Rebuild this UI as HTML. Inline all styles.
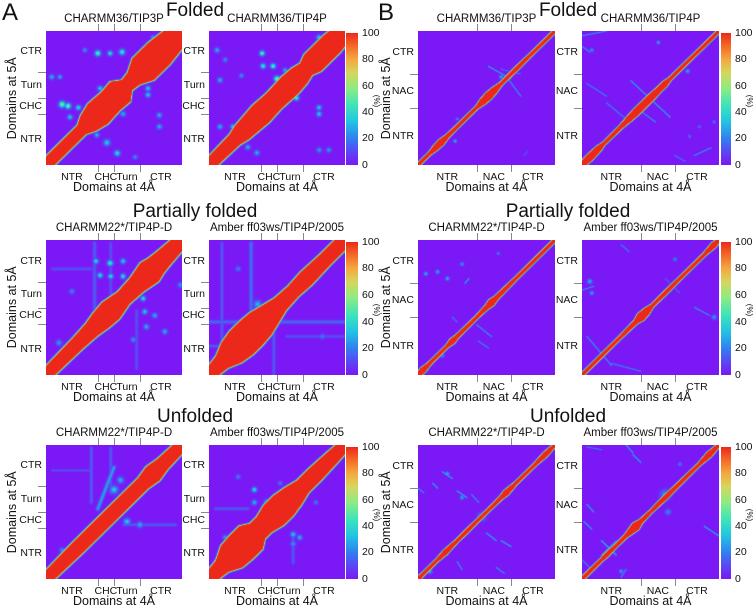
<!DOCTYPE html>
<html><head><meta charset="utf-8">
<style>
body{margin:0;background:#fff;}
#fig{position:relative;width:756px;height:608px;overflow:hidden;background:#fff;font-family:"Liberation Sans",Arial,sans-serif;color:#111;}
.t{position:absolute;white-space:nowrap;line-height:1;}
canvas{position:absolute;}
.tick{position:absolute;background:#888;}
</style></head>
<body>
<div id="fig"></div>
<script>
// ---------- data ----------
const domainsA = ["NTR","CHC","Turn","CTR"];
const boundsA = [0,16,21,29,42];
const domainsB = ["NTR","NAC","CTR"];
const boundsB = [0,60,95,140];
const cbTicks = [0,20,40,60,80,100];
const rowTitles = ["Folded","Partially folded","Unfolded"];
const subtitles = [["CHARMM36/TIP3P","CHARMM36/TIP4P"],["CHARMM22*/TIP4P-D","Amber ff03ws/TIP4P/2005"],["CHARMM22*/TIP4P-D","Amber ff03ws/TIP4P/2005"]];

const diagPosA1=[0,11,13,16,20,23,25,27,30,35,39,42];
const diagHwA1=[2.5,2.5,4.5,6,5.5,6,3,3.5,6.5,6.5,5.5,3];
const blobsA1=[[16,35,0.9,50],[19.8,35,0.8,40],[23.5,35.4,0.9,45],[28,32,0.8,40],[5,19,1,55],[6.8,18.5,0.9,55],[10,18,0.8,40],[7.4,15,0.8,35],[1.8,27.6,0.8,30],[4.3,27.6,0.7,30],[16.7,24,0.8,35],[23.8,16,0.8,30],[15.7,9.4,0.8,30],[18.8,7,1,35],[22,3.7,0.9,40],[31.5,24,0.8,35],[31.5,22,0.8,35],[35,15.6,0.8,30],[35,12,0.8,30],[27.5,2.5,0.7,25],[12,36,0.7,25],[33,40,0.7,25]];
const segsA1=[];

const diagPosA2=[0,8,10,16,20,25,28,30,32,38,40,42];
const diagHwA2=[2.5,3,4,5,4.5,5,4.5,3.5,5,5,4.5,3];
const blobsA2=[[16.4,35,0.8,50],[16.7,31,0.8,45],[19.8,31,0.8,50],[23.5,29.7,0.7,30],[21,27,0.9,55],[27,21,0.8,45],[2.5,36,0.8,30],[3.4,26.6,0.8,30],[3.4,12,0.8,30],[7.4,12,0.8,35],[12,5.6,0.8,30],[14.8,3.8,0.8,30],[34,18,0.8,35],[34,16,0.8,35],[34,4.7,0.8,25],[37,4.7,0.8,25],[34,40,0.8,35],[34,38,0.8,30],[10,28,0.7,25],[5,33,0.7,25]];
const segsA2=[];

const diagPosA3=[0,10,14,17,20,24,28,32,34,36,42];
const diagHwA3=[2.5,3,3.5,4.5,5,3.5,4,5.5,4.5,4,3];
const blobsA3=[[15.4,35.4,0.8,40],[19.8,34.8,0.9,45],[23.8,35.4,0.8,35],[16.7,31,0.8,40],[20,30.7,0.8,40],[23.8,30.7,0.8,40],[30,23.8,0.8,40],[30.5,19.7,0.8,35],[33.6,18.5,0.8,30],[36.7,13.5,0.8,30],[41.5,28,0.8,25],[8,26,0.8,22],[4,10,0.9,25],[27,11,0.8,25],[31,15,0.8,30]];
const segsA3=[[15,20,15,41,0.6,14],[20,24,20,41,0.5,12],[2,33,14,33,0.5,12],[28,2,28,20,0.5,12]];

const diagPosA4=[0,4,7,10,13,16,19,22,26,30,36,42];
const diagHwA4=[2.5,3.5,6,7,7,6.5,5,3.5,3,3.5,3,3];
const blobsA4=[[15,22,1.2,30],[25,25,0.9,25],[30,33,0.8,20],[9,33,0.8,20],[35,12,0.8,20]];
const segsA4=[[13,10,13,41,0.6,18],[0,16.5,42,16.5,0.6,16],[4,8,4,41,0.5,14],[20,0,20,14,0.5,14],[0,9,12,9,0.5,14],[24,12,42,12,0.5,12]];

const diagPosA5=[0,10,14,18,22,26,30,33,36,42];
const diagHwA5=[2.5,3,3,3,3,3,3,4,3,2.5];
const blobsA5=[[21,28,1.2,35],[23,31,1,30],[25,18,1,35],[29,17,0.9,30],[8,7,1,30],[5,9,0.8,25],[39,38,1,30],[32,35,0.8,22]];
const segsA5=[[16,22,21,35,0.6,26],[14,24,14,41,0.5,15],[20,27,20,41,0.5,14],[24,17,40,17,0.5,14],[2,34,14,34,0.4,12]];

const diagPosA6=[0,4,7,10,13,15,17,20,23,26,29,33,38,42];
const diagHwA6=[2.5,3.5,6.5,7,7,4.5,4.5,6,6,5,3.5,3.5,3,2.5];
const blobsA6=[[14,28,0.8,40],[18,24,0.9,40],[14,24,0.8,30],[24,19,0.8,40],[26,14,0.8,35],[28,13,0.8,30],[26,11,0.8,25],[9,32,0.7,22],[36,38,0.7,22],[22,30,0.7,20],[33,24,0.7,20],[5,13,0.8,25]];
const segsA6=[[2,22,12,22,0.5,14],[26,5,26,14,0.5,14]];

const diagPosB1=[0,12,18,24,30,40,60,66,72,78,85,100,115,140];
const diagHwB1=[2,2,4,4.5,2.5,2,2,4.5,5.5,4.5,2,2.5,2,2];
const blobsB1=[[40,48,1.5,25],[85,92,2,30],[38,25,1.8,30]];
const segsB1=[[72,103,95,90,0.7,28],[92,90,105,72,0.7,25],[85,100,105,95,0.6,20],[108,10,112,14,0.6,15]];

const diagPosB2=[0,8,18,22,40,48,55,62,70,78,85,90,100,140];
const diagHwB2=[4,5,4,2,2.5,4,5,5,5,4,4,2,2,2];
const blobsB2=[[78,128,1.8,30],[100,100,2,30],[108,98,2,30],[10,120,2,25],[135,45,1.5,25],[120,40,1.5,22],[110,30,1.5,22]];
const segsB2=[[0,135,25,140,0.7,25],[0,124,8,118,0.7,25],[50,88,90,50,0.7,28],[55,60,75,45,0.7,25],[25,65,45,48,0.7,22],[5,85,25,72,0.7,22],[115,10,132,18,0.7,25],[95,10,105,4,0.7,20]];

const diagPosB3=[0,5,10,15,30,35,40,60,70,75,80,100,125,140];
const diagHwB3=[3,4,2.5,2,2,4,2.5,2,3,5,3,2,2,2];
const blobsB3=[[8,105,2,30],[20,107,2,30],[30,100,2,30],[45,115,2,25],[82,126,1.5,25],[8,6,2.5,35],[25,20,2,25]];
const segsB3=[[48,95,52,100,0.7,30],[35,60,40,55,0.7,20],[60,52,75,40,0.7,25],[62,35,72,28,0.7,22]];

const diagPosB4=[0,15,25,40,55,60,66,72,85,100,110,125,135,140];
const diagHwB4=[2,2,2,2,3,6,5,2,2.5,2,2,2,4,2];
const blobsB4=[[8,97,2.5,30],[10,85,2,30],[95,120,2,22],[135,60,2.5,25]];
const segsB4=[[0,88,12,92,0.7,25],[5,40,30,10,0.7,25],[30,12,60,4,0.7,22],[40,135,48,128,0.7,22],[115,70,130,62,0.7,25],[85,100,100,85,0.7,15]];

const diagPosB5=[0,5,20,28,40,50,60,75,85,90,100,120,130,140];
const diagHwB5=[3,2,2,3.5,2,2.5,2,2,2.5,4,2,2,3.5,2];
const blobsB5=[[12,8,2.5,30],[65,65,4,28],[30,110,2,30],[45,85,2,30]];
const segsB5=[[15,100,20,95,0.7,30],[25,112,35,105,0.7,30],[40,92,50,85,0.7,30],[55,88,62,80,0.7,25],[25,30,30,25,0.7,30],[70,48,80,40,0.7,30],[85,40,95,34,0.7,30],[80,12,88,6,0.7,25],[40,18,45,10,0.7,25],[0,95,6,90,0.7,25]];
const diagPosB6=[0,20,25,35,45,55,60,70,85,95,120,130,140];
const diagHwB6=[2.5,2,3,2,2.5,6,3,2,3,2.5,2,4,2];
const blobsB6=[[85,88,5,25],[88,70,3,22],[40,8,2,28],[100,120,2,20]];
const segsB6=[[45,140,52,132,0.7,30],[52,130,60,122,0.7,30],[2,60,10,52,0.7,30],[5,78,12,70,0.7,28],[20,40,35,25,0.8,30],[20,25,35,40,0.7,28],[125,55,140,45,0.7,30],[0,20,10,10,0.7,22],[40,2,45,10,0.7,25],[5,138,20,135,0.7,20]];

// ---------- layout ----------
const rowTop=[31,240,445], ph=[134,135,134];
const colsA=[46,209], colsB=[418,582], pwA=136, pwB=137;
const panels=[
 {c:0,r:0,d:[diagPosA1,diagHwA1,blobsA1,segsA1],B:false},
 {c:1,r:0,d:[diagPosA2,diagHwA2,blobsA2,segsA2],B:false},
 {c:0,r:1,d:[diagPosA3,diagHwA3,blobsA3,segsA3],B:false},
 {c:1,r:1,d:[diagPosA4,diagHwA4,blobsA4,segsA4],B:false},
 {c:0,r:2,d:[diagPosA5,diagHwA5,blobsA5,segsA5],B:false},
 {c:1,r:2,d:[diagPosA6,diagHwA6,blobsA6,segsA6],B:false},
 {c:0,r:0,d:[diagPosB1,diagHwB1,blobsB1,segsB1],B:true},
 {c:1,r:0,d:[diagPosB2,diagHwB2,blobsB2,segsB2],B:true},
 {c:0,r:1,d:[diagPosB3,diagHwB3,blobsB3,segsB3],B:true},
 {c:1,r:1,d:[diagPosB4,diagHwB4,blobsB4,segsB4],B:true},
 {c:0,r:2,d:[diagPosB5,diagHwB5,blobsB5,segsB5],B:true},
 {c:1,r:2,d:[diagPosB6,diagHwB6,blobsB6,segsB6],B:true}
];

// ---------- helpers ----------
const fig=document.getElementById('fig');
function txt(s,x,y,size,anchor,extra){
  const e=document.createElement('div');e.className='t';e.textContent=s;
  e.style.fontSize=size+'px';e.style.top=(y-size*0.5)+'px';
  if(anchor==='c'){e.style.left=x+'px';e.style.transform='translateX(-50%)';}
  else if(anchor==='r'){e.style.right=(756-x)+'px';}
  else e.style.left=x+'px';
  if(extra)Object.assign(e.style,extra);
  fig.appendChild(e);return e;
}
function tick(x,y,w,h){const e=document.createElement('div');e.className='tick';
  e.style.left=x+'px';e.style.top=y+'px';e.style.width=w+'px';e.style.height=h+'px';fig.appendChild(e);
  
  return e;}
const stops=[[0,[122,24,246]],[0.1,[92,70,244]],[0.2,[48,128,240]],[0.33,[34,196,226]],[0.45,[60,228,186]],[0.58,[140,236,130]],[0.7,[214,214,92]],[0.8,[244,168,64]],[0.9,[244,106,40]],[1,[236,40,26]]];
function cmap(v){v=Math.max(0,Math.min(1,v));
  for(let i=1;i<stops.length;i++){if(v<=stops[i][0]){const a=stops[i-1],b=stops[i],t=(v-a[0])/(b[0]-a[0]);
    return [0,1,2].map(k=>Math.round(a[1][k]+(b[1][k]-a[1][k])*t));}}
  return stops[stops.length-1][1];}
function interp(xs,ys,x){if(x<=xs[0])return ys[0];for(let i=1;i<xs.length;i++){if(x<=xs[i]){const t=(x-xs[i-1])/(xs[i]-xs[i-1]);return ys[i-1]+(ys[i]-ys[i-1])*t;}}return ys[ys.length-1];}

function drawPanel(p){
  const N=p.B?140:42, W=p.B?pwB:pwA, H=ph[p.r];
  const X0=(p.B?colsB:colsA)[p.c], Y0=rowTop[p.r];
  const [dp,dh,blobs,segs]=p.d;
  const cv=document.createElement('canvas');cv.width=W;cv.height=H;
  cv.style.left=X0+'px';cv.style.top=Y0+'px';cv.style.width=W+'px';cv.style.height=H+'px';
  
  
  fig.appendChild(cv);
  const ctx=cv.getContext('2d'),img=ctx.createImageData(W,H);
  const sEdge=p.B?1.4:0.6;
  for(let py=0;py<H;py++)for(let px=0;px<W;px++){
    const x=(px+0.5)/W*N, y=(H-py-0.5)/H*N;
    let v;
    const dd=Math.abs(x-y), h2=interp(dp,dh,(x+y)/2);
    if(dd<h2)v=1;else v=Math.exp(-Math.pow((dd-h2)/sEdge,2));
    for(const b of blobs){const r2=((x-b[0])**2+(y-b[1])**2)/(b[2]*b[2]);if(r2<9){const w=b[3]/100*Math.exp(-r2);if(w>v)v=w;}}
    for(const s of segs){const ax=s[2]-s[0],ay=s[3]-s[1],L=ax*ax+ay*ay;let t=((x-s[0])*ax+(y-s[1])*ay)/L;t=Math.max(0,Math.min(1,t));
      const r2=((x-s[0]-t*ax)**2+(y-s[1]-t*ay)**2)/(s[4]*s[4]);if(r2<9){const w=s[5]/100*Math.exp(-r2);if(w>v)v=w;}}
    const c=cmap(v),o=(py*W+px)*4;img.data[o]=c[0];img.data[o+1]=c[1];img.data[o+2]=c[2];img.data[o+3]=255;
  }
  ctx.putImageData(img,0,0);
  const bounds=p.B?boundsB:boundsA, doms=p.B?domainsB:domainsA;
  for(let i=1;i<bounds.length-1;i++){
    const tx=X0+bounds[i]/N*W; tick(tx,Y0-7,1,7); tick(tx,Y0+H,1,7);
    const ty=Y0+H-bounds[i]/N*H; tick(X0-8,ty,8,1);
  }
  for(let i=0;i<doms.length;i++){
    const cx=X0+(bounds[i]+bounds[i+1])/2/N*W, cy=Y0+H-(bounds[i]+bounds[i+1])/2/N*H;
    const lx=txt(doms[i],cx,Y0+H+12,10.5,'c');
    
    
    const ly=txt(doms[i],X0-4,cy,10.5,'r');
    
    
  }
  const xt=txt('Domains at 4Å',X0+W/2,Y0+H+22,12.5,'c');
  
  
  if(p.c===0){
    const yt=txt('Domains at 5Å',(p.B?386:12),Y0+H/2,12.5,'c',{transform:'translate(-50%,0) rotate(-90deg)'});
    
    
  }
  const st=txt(subtitles[p.r][p.c],X0+W/2,Y0-11,11.5,'c');
  
  
  if(p.c===1){
    const cbx=p.B?721:346, cbw=p.B?10:12;
    const cb=document.createElement('div');
    cb.style.cssText='position:absolute;left:'+cbx+'px;top:'+(Y0+2)+'px;width:'+cbw+'px;height:'+(H-2)+'px;';
    const g=[];for(let i=stops.length-1;i>=0;i--){const c=stops[i][1];g.push('rgb('+c.join(',')+') '+((1-stops[i][0])*100)+'%');}
    cb.style.background='linear-gradient(to bottom,'+g.join(',')+')';
    
    
    fig.appendChild(cb);
    for(const t of cbTicks){
      const ty=Y0+2+(H-2)*(1-t/100);
      const l=txt(String(t),cbx+cbw+4,ty,10.5,'l');
      
      
    }
    const u=txt('(%)',cbx+cbw+18,Y0+H*0.52,8,'c',{transform:'translate(-50%,0) rotate(90deg)'});
    
    
  }
}
panels.forEach(drawPanel);
for(let r=0;r<3;r++){
  const ty=[10,211,416][r];
  const a=txt(rowTitles[r],195,ty,19,'c');
  
  
  const b=txt(rowTitles[r],568,ty,19,'c');
  
  
}
const la=txt('A',2,13,24,'l');


const lb=txt('B',378,13,24,'l');


</script>
</body></html>
